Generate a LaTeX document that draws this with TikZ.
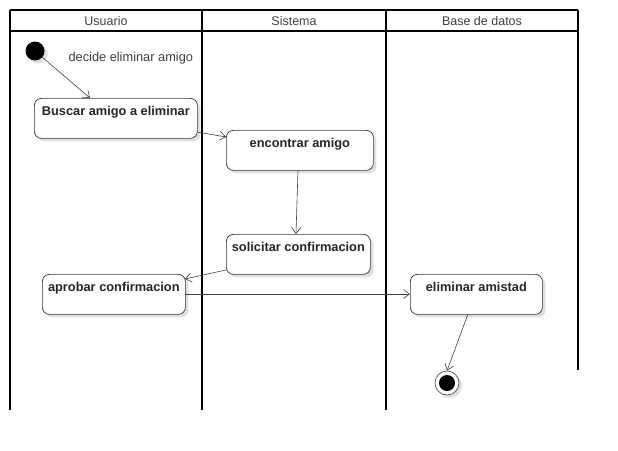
\documentclass[tikz,border=0pt]{standalone}
\usepackage{fontspec}
\setmainfont{Liberation Sans}
\usetikzlibrary{arrows.meta,shadows}
\definecolor{shd}{RGB}{222,222,222}
\begin{document}
\begin{tikzpicture}[x=1pt,y=-1pt,
  lane/.style={line width=1.6pt,black},
  hdr/.style={font=\fontsize{12.5}{14}\selectfont, text=black!75},
  act/.style={draw=black!80, line width=0.7pt, rounded corners=7pt, fill=white,
    minimum height=40pt, anchor=north west, inner sep=0pt,
    drop shadow={shadow xshift=3pt,shadow yshift=-3pt,fill=shd,opacity=1}},
  acttext/.style={font=\bfseries\fontsize{12.8}{14}\selectfont, anchor=north, text=black!85},
  conn/.style={draw=black!75, line width=0.6pt, -{Straight Barb[length=6pt,width=9pt]}}
]
\useasboundingbox (0,0) rectangle (618,450);
% swimlanes
\draw[lane] (10,10) -- (578,10);
\draw[lane] (10,31) -- (578,31);
\draw[lane] (10,10) -- (10,410);
\draw[lane] (202,10) -- (202,410);
\draw[lane] (386,10) -- (386,410);
\draw[lane] (578,10) -- (578,370);
\node[hdr] (h1) at (106,21) {Usuario};
\node[hdr] (h2) at (294,21) {Sistema};
\node[hdr] (h3) at (482,21) {Base de datos};
% initial
\fill[shd] (38,54) circle (9.5);
\node[circle, fill=black, minimum size=19pt, inner sep=0pt] (start) at (35,51) {};
\node[font=\fontsize{12.8}{14}\selectfont, text=black!75, anchor=west] (lbl) at (65,58.5) {decide eliminar amigo};
% activities
\node[act, minimum width=163pt] (buscar) at (34,98) {};
\node[acttext] at (buscar.north) [yshift=-5pt] {Buscar amigo a eliminar};
\node[act, minimum width=147pt] (encontrar) at (226,130) {};
\node[acttext] at (encontrar.north) [yshift=-5pt] {encontrar amigo};
\node[act, minimum width=144pt] (solicitar) at (226,234) {};
\node[acttext] at (solicitar.north) [yshift=-5pt] {solicitar confirmacion};
\node[act, minimum width=143pt] (aprobar) at (42,274) {};
\node[acttext] at (aprobar.north) [yshift=-5pt] {aprobar confirmacion};
\node[act, minimum width=132pt] (eliminar) at (410,274) {};
\node[acttext] at (eliminar.north) [yshift=-5pt] {eliminar amistad};
% final
\fill[shd] (450,386) circle (12);
\node[circle, draw=black!75, fill=white, line width=0.6pt, minimum size=24pt, inner sep=0pt] (final) at (447,383) {};
\fill[black] (final.center) circle (8);
% connectors
\draw[conn] (start) -- (buscar.north west -| 90,98);
\coordinate (b1) at (197,132);
\coordinate (e1) at (226,137);
\draw[conn] (b1) -- (e1);
\draw[conn] (298,170) -- (296,234);
\draw[conn] (226,270) -- (185,279);
\draw[conn] (185,294) -- (410,294);
\draw[conn] (468,314) -- (final.north);
\end{tikzpicture}
\end{document}
